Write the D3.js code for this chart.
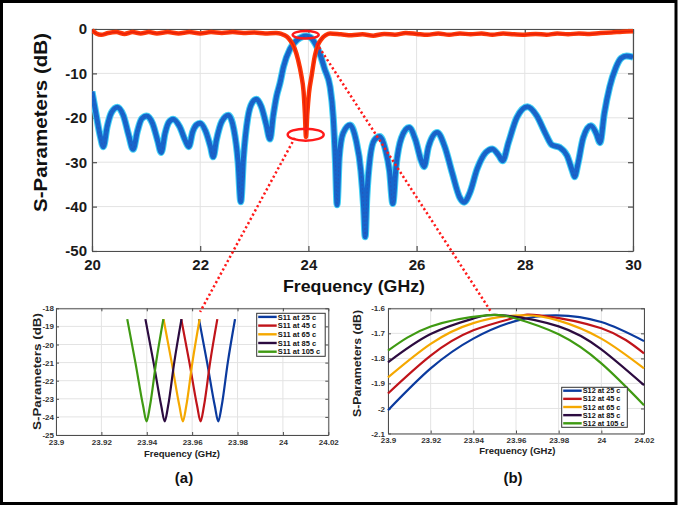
<!DOCTYPE html>
<html lang="en">
<head>
<meta charset="UTF-8">
<script src="https://cdnjs.cloudflare.com/ajax/libs/d3/7.8.5/d3.min.js"></script>
<title>S-Parameters</title>
<style>
    body { margin: 0; background: #fff; }
    svg text { font-family: Arial, "Liberation Sans", sans-serif; font-weight: bold; }
</style>
</head>
<body>
<div id="plot"></div>
<script>
    // ---- data ----
    // main plot: [GHz, dB]
    var mainS12 = [
        [20.00,-14.1],[20.08,-19.5],[20.15,-24.0],[20.21,-26.5],[20.28,-22.0],[20.36,-18.8],[20.47,-17.6],
        [20.58,-19.5],[20.68,-24.0],[20.76,-27.1],[20.84,-23.0],[20.92,-20.2],[21.01,-19.6],[21.12,-21.3],
        [21.21,-25.0],[21.28,-27.8],[21.35,-23.5],[21.42,-21.0],[21.50,-20.3],[21.62,-22.0],[21.72,-25.0],
        [21.79,-26.5],[21.86,-23.2],[21.93,-21.6],[22.00,-21.2],[22.10,-23.0],[22.19,-26.5],[22.24,-28.8],
        [22.30,-25.0],[22.40,-20.8],[22.52,-19.4],[22.62,-22.5],[22.70,-30.0],[22.75,-38.9],[22.80,-29.0],
        [22.88,-20.0],[22.96,-16.6],[23.04,-15.8],[23.13,-17.5],[23.22,-21.5],[23.29,-24.8],[23.35,-19.5],
        [23.41,-15.2],[23.475,-12.2],[23.54,-8.5],[23.66,-4.5],[23.78,-2.6],[23.88,-1.8],[23.96,-1.6],
        [24.04,-1.9],[24.13,-3.4],[24.21,-5.5],[24.30,-9.0],[24.40,-13.0],[24.46,-20.0],[24.50,-30.0],
        [24.53,-39.6],[24.57,-29.0],[24.64,-23.5],[24.77,-21.6],[24.88,-25.0],[24.97,-32.0],[25.02,-40.0],
        [25.05,-46.8],[25.08,-38.0],[25.14,-29.0],[25.22,-25.0],[25.32,-24.2],[25.42,-27.0],[25.50,-32.0],
        [25.56,-39.3],[25.62,-31.0],[25.72,-24.5],[25.86,-22.2],[25.98,-25.0],[26.08,-29.5],[26.14,-31.0],
        [26.22,-26.5],[26.38,-23.3],[26.52,-26.5],[26.66,-32.5],[26.80,-38.0],[26.88,-39.0],[26.98,-37.0],
        [27.12,-31.5],[27.28,-27.8],[27.40,-27.0],[27.52,-28.5],[27.59,-29.7],[27.70,-25.5],[27.85,-20.0],
        [28.05,-17.5],[28.22,-19.5],[28.38,-23.5],[28.50,-26.1],[28.65,-26.7],[28.78,-28.5],[28.88,-32.0],
        [28.92,-33.3],[28.98,-30.5],[29.08,-24.5],[29.22,-21.8],[29.32,-23.5],[29.39,-25.6],[29.47,-19.0],
        [29.57,-13.0],[29.68,-8.8],[29.78,-6.6],[29.88,-6.1],[30.00,-6.3]
    ];
    var mainS11 = [
        [20.00,-0.3],[20.08,-1.0],[20.17,-1.3],[20.30,-0.9],[20.45,-0.7],[20.60,-1.1],[20.75,-0.7],
        [20.90,-1.0],[21.05,-0.7],[21.20,-1.0],[21.40,-0.7],[21.60,-1.0],[21.80,-0.7],[22.00,-1.0],
        [22.20,-0.7],[22.40,-0.9],[22.60,-0.7],[22.80,-0.9],[23.00,-0.8],[23.20,-1.0],[23.40,-0.9],
        [23.50,-1.1],[23.60,-1.7],[23.66,-2.5],[23.74,-4.2],[23.81,-7.0],[23.87,-10.5],[23.91,-14.0],
        [23.935,-19.0],[23.955,-24.3],[23.98,-19.0],[24.01,-14.5],[24.06,-10.5],[24.12,-6.0],[24.18,-3.5],
        [24.245,-2.2],[24.32,-1.4],[24.40,-1.0],[24.60,-1.2],[24.80,-1.4],[25.00,-1.2],[25.20,-1.5],
        [25.40,-1.1],[25.60,-1.3],[25.80,-0.9],[26.00,-1.1],[26.20,-1.3],[26.40,-1.0],[26.60,-1.3],
        [26.80,-1.0],[27.00,-1.2],[27.20,-1.0],[27.40,-1.3],[27.60,-1.0],[27.80,-1.2],[28.00,-1.3],
        [28.20,-1.1],[28.40,-1.3],[28.60,-1.0],[28.80,-1.2],[29.00,-1.0],[29.20,-1.1],[29.40,-0.9],
        [29.60,-0.8],[29.80,-0.6],[30.00,-0.5]
    ];

    // inset (a): S11 near the notch, one list per temperature
    var s11At25 = [[23.9630,-18.6],[23.9666,-21.0],[23.9700,-23.4],[23.9715,-24.25],[23.9730,-23.4],[23.9757,-21.0],[23.9789,-18.6]];
    var s11At45 = [[23.9552,-18.6],[23.9588,-21.0],[23.9622,-23.4],[23.9637,-24.25],[23.9652,-23.4],[23.9679,-21.0],[23.9711,-18.6]];
    var s11At65 = [[23.9474,-18.6],[23.9510,-21.0],[23.9544,-23.4],[23.9559,-24.25],[23.9574,-23.4],[23.9601,-21.0],[23.9633,-18.6]];
    var s11At85 = [[23.9394,-18.6],[23.9430,-21.0],[23.9464,-23.4],[23.9479,-24.25],[23.9494,-23.4],[23.9521,-21.0],[23.9553,-18.6]];
    var s11At105 = [[23.9314,-18.6],[23.9350,-21.0],[23.9384,-23.4],[23.9399,-24.25],[23.9414,-23.4],[23.9441,-21.0],[23.9473,-18.6]];

    // inset (b): S12 near the pass band peak
    var s12At25 = [[23.90,-2.007],[23.92,-1.840],[23.94,-1.721],[23.96,-1.650],[23.979,-1.628],[24.00,-1.655],[24.02,-1.731]];
    var s12At45 = [[23.90,-1.940],[23.92,-1.789],[23.94,-1.688],[23.96,-1.636],[23.971,-1.628],[24.00,-1.680],[24.02,-1.780]];
    var s12At65 = [[23.90,-1.876],[23.92,-1.742],[23.94,-1.659],[23.962,-1.628],[23.98,-1.649],[24.00,-1.721],[24.02,-1.840]];
    var s12At85 = [[23.90,-1.816],[23.92,-1.703],[23.94,-1.641],[23.954,-1.628],[23.98,-1.672],[24.00,-1.764],[24.02,-1.907]];
    var s12At105 = [[23.90,-1.769],[23.92,-1.673],[23.946,-1.628],[23.96,-1.641],[23.98,-1.704],[24.00,-1.820],[24.02,-1.987]];

    var temps = ["25", "45", "65", "85", "105"];
    var freqTicks = [20, 22, 24, 26, 28, 30];
    var dbTicks = [-50, -40, -30, -20, -10, 0];
    var insetFreqTicks = [23.9, 23.92, 23.94, 23.96, 23.98, 24, 24.02];
    var s11Ticks = [-25, -24, -23, -22, -21, -20, -19, -18];
    var s12Ticks = [-2.1, -2, -1.9, -1.8, -1.7, -1.6];

    var tempColors = ["#0b3a9e", "#c0141a", "#f5a800", "#2c0b40", "#3f9a12"];

    // ---- svg ----
    var svg = d3.select("#plot").append("svg")
        .attr("width", 679)
        .attr("height", 509);

    svg.append("rect")
        .attr("x", 1.5).attr("y", 1.5)
        .attr("width", 674.5).attr("height", 502)
        .attr("fill", "#fff")
        .attr("stroke", "#000")
        .attr("stroke-width", 3);

    // MATLAB-like box with inward ticks and grid
    function drawAxes(g, x, y, xt, yt, o) {
        var w = x.range()[1], h = y.range()[0];
        g.append("g").selectAll("line").data(xt).join("line")
            .attr("x1", d => x(d)).attr("x2", d => x(d))
            .attr("y1", 0).attr("y2", h)
            .attr("stroke", "#e3e3e3").attr("stroke-width", 1);
        g.append("g").selectAll("line").data(yt).join("line")
            .attr("y1", d => y(d)).attr("y2", d => y(d))
            .attr("x1", 0).attr("x2", w)
            .attr("stroke", "#e3e3e3").attr("stroke-width", 1);

        var fmt = d => String(d);
        var axes = [
            g.append("g").attr("transform", "translate(0," + h + ")")
                .call(d3.axisBottom(x).tickValues(xt).tickSizeInner(-o.tick).tickSizeOuter(0).tickPadding(o.padX).tickFormat(fmt)),
            g.append("g")
                .call(d3.axisLeft(y).tickValues(yt).tickSizeInner(-o.tick).tickSizeOuter(0).tickPadding(o.padY).tickFormat(fmt)),
            g.append("g")
                .call(d3.axisTop(x).tickValues(xt).tickSizeInner(-o.tick).tickSizeOuter(0).tickFormat("")),
            g.append("g").attr("transform", "translate(" + w + ",0)")
                .call(d3.axisRight(y).tickValues(yt).tickSizeInner(-o.tick).tickSizeOuter(0).tickFormat(""))
        ];
        axes.forEach(a => {
            a.attr("font-size", null).attr("font-family", null);
            a.selectAll("path, line").attr("stroke", "#4d4d4d").attr("stroke-width", o.lw);
            a.selectAll("text").attr("fill", o.color).style("font-size", o.font + "px");
        });
    }

    function drawLegend(g, lx, ly, lw, lh, label, rowTop, rowStep, fontSize) {
        var lg = g.append("g").attr("transform", "translate(" + lx + "," + ly + ")");
        lg.append("rect").attr("width", lw).attr("height", lh)
            .attr("fill", "#fff").attr("stroke", "#333").attr("stroke-width", 1);
        temps.forEach((t, i) => {
            var ry = rowTop + i * rowStep;
            lg.append("line").attr("x1", 1.5).attr("x2", 20).attr("y1", ry).attr("y2", ry)
                .attr("stroke", tempColors[i]).attr("stroke-width", 2.4);
            lg.append("text").attr("x", 21).attr("y", ry + fontSize * 0.36)
                .style("font-size", fontSize + "px").attr("fill", "#111")
                .text(label + " at " + t + " c");
        });
    }

    // ---- main plot ----
    var mx0 = 92, my0 = 29, mw = 541, mh = 222;
    var main = svg.append("g").attr("transform", "translate(" + mx0 + "," + my0 + ")");
    var x = d3.scaleLinear().domain([20, 30]).range([0, mw]);
    var y = d3.scaleLinear().domain([-50, 0]).range([mh, 0]);

    drawAxes(main, x, y, freqTicks, dbTicks, { tick: 5, padX: 8, padY: 5, font: 15, lw: 1.2, color: "#1a1a1a" });

    svg.append("clipPath").attr("id", "mainclip")
        .append("rect").attr("x", 0).attr("y", -4).attr("width", mw).attr("height", mh + 4);

    var mline = d3.line().x(d => x(d[0])).y(d => y(d[1])).curve(d3.curveMonotoneX);
    var lines = main.append("g").attr("clip-path", "url(#mainclip)");
    lines.append("path").attr("d", mline(mainS12)).attr("fill", "none")
        .attr("stroke", "#45d2f5").attr("stroke-width", 7).attr("stroke-linejoin", "round");
    lines.append("path").attr("d", mline(mainS12)).attr("fill", "none")
        .attr("stroke", "#1766cc").attr("stroke-width", 5).attr("stroke-linejoin", "round");
    lines.append("path").attr("d", mline(mainS12)).attr("fill", "none")
        .attr("stroke", "#3446a8").attr("stroke-opacity", 0.5)
        .attr("stroke-width", 1).attr("stroke-dasharray", "2,2");
    lines.append("path").attr("d", mline(mainS11)).attr("fill", "none")
        .attr("stroke", "#ff3a08").attr("stroke-width", 4.5).attr("stroke-linejoin", "round");
    lines.append("path").attr("d", mline(mainS11)).attr("fill", "none")
        .attr("stroke", "#e8200a").attr("stroke-width", 1.5).attr("stroke-linejoin", "round");

    main.append("text")
        .attr("x", 262).attr("y", 263)
        .attr("text-anchor", "middle")
        .attr("textLength", 142).attr("lengthAdjust", "spacingAndGlyphs")
        .style("font-size", "17px").attr("fill", "#111")
        .text("Frequency (GHz)");
    svg.append("text")
        .attr("transform", "translate(46.5,122.5) rotate(-90)")
        .attr("text-anchor", "middle")
        .attr("textLength", 179).attr("lengthAdjust", "spacingAndGlyphs")
        .style("font-size", "18px").attr("fill", "#111")
        .text("S-Parameters (dB)");

    // ---- inset (a) ----
    var ax0 = 56, ay0 = 308.3;
    var insetA = svg.append("g").attr("transform", "translate(" + ax0 + "," + ay0 + ")");
    var xa = d3.scaleLinear().domain([23.9, 24.02]).range([0, 272.3]);
    var ya = d3.scaleLinear().domain([-25, -18]).range([126.7, 0]);
    drawAxes(insetA, xa, ya, insetFreqTicks, s11Ticks, { tick: 3, padX: 4.5, padY: 2, font: 8, lw: 1, color: "#333" });

    var aline = d3.line().x(d => xa(d[0])).y(d => ya(d[1])).curve(d3.curveMonotoneX);
    [s11At25, s11At45, s11At65, s11At85, s11At105].forEach((s, i) => {
        insetA.append("path").attr("d", aline(s)).attr("fill", "none")
            .attr("stroke", tempColors[i]).attr("stroke-width", 2.2);
    });
    drawLegend(insetA, 200.7, 5, 68.5, 43, "S11", 3.6, 8.7, 7.5);

    insetA.append("text").attr("x", 126).attr("y", 148.5).attr("text-anchor", "middle")
        .style("font-size", "9.5px").attr("fill", "#222").text("Frequency (GHz)");
    svg.append("text")
        .attr("transform", "translate(40.5,371.5) rotate(-90)")
        .attr("text-anchor", "middle")
        .attr("textLength", 117).attr("lengthAdjust", "spacingAndGlyphs")
        .style("font-size", "10.5px").attr("fill", "#222")
        .text("S-Parameters (dB)");
    svg.append("text").attr("x", 184).attr("y", 483).attr("text-anchor", "middle")
        .style("font-size", "15px").attr("fill", "#111").text("(a)");

    // ---- inset (b) ----
    var bx0 = 388, by0 = 308.3;
    var insetB = svg.append("g").attr("transform", "translate(" + bx0 + "," + by0 + ")");
    var xb = d3.scaleLinear().domain([23.9, 24.02]).range([0, 256]);
    var yb = d3.scaleLinear().domain([-2.1, -1.6]).range([125.2, 0]);
    drawAxes(insetB, xb, yb, insetFreqTicks, s12Ticks, { tick: 3, padX: 4, padY: 3, font: 8, lw: 1, color: "#333" });

    var bline = d3.line().x(d => xb(d[0])).y(d => yb(d[1])).curve(d3.curveNatural);
    [s12At25, s12At45, s12At65, s12At85, s12At105].forEach((s, i) => {
        insetB.append("path").attr("d", bline(s)).attr("fill", "none")
            .attr("stroke", tempColors[i]).attr("stroke-width", 2.2);
    });
    drawLegend(insetB, 173.7, 79, 65.6, 40, "S12", 3.4, 8.15, 7.3);

    insetB.append("text").attr("x", 129.3).attr("y", 146.2).attr("text-anchor", "middle")
        .style("font-size", "9.5px").attr("fill", "#222").text("Frequency (GHz)");
    svg.append("text")
        .attr("transform", "translate(360.5,363.5) rotate(-90)")
        .attr("text-anchor", "middle")
        .attr("textLength", 107).attr("lengthAdjust", "spacingAndGlyphs")
        .style("font-size", "10px").attr("fill", "#222")
        .text("S-Parameters (dB)");
    svg.append("text").attr("x", 513).attr("y", 483).attr("text-anchor", "middle")
        .style("font-size", "15px").attr("fill", "#111").text("(b)");

    // ---- zoom markers: ellipses and dotted leaders ----
    var marks = svg.append("g").attr("fill", "none").attr("stroke", "#ff1a1a");
    marks.append("ellipse")
        .attr("cx", mx0 + x(23.95)).attr("cy", my0 + y(-1.3))
        .attr("rx", 13).attr("ry", 3.8).attr("stroke-width", 2.5);
    marks.append("ellipse")
        .attr("cx", mx0 + x(23.95)).attr("cy", my0 + y(-23.8))
        .attr("rx", 18).attr("ry", 6).attr("stroke-width", 2.5);
    marks.append("line")
        .attr("x1", mx0 + x(23.75)).attr("y1", my0 + y(-24.5))
        .attr("x2", ax0 + xa(23.9635)).attr("y2", ay0 + ya(-18.2))
        .attr("stroke-width", 2.5).attr("stroke-dasharray", "2.2,2.6");
    marks.append("line")
        .attr("x1", mx0 + x(24.15)).attr("y1", my0 + y(-3.2))
        .attr("x2", bx0 + xb(23.948)).attr("y2", by0 + yb(-1.61))
        .attr("stroke-width", 2.5).attr("stroke-dasharray", "2.2,2.6");
</script>
</body>
</html>
